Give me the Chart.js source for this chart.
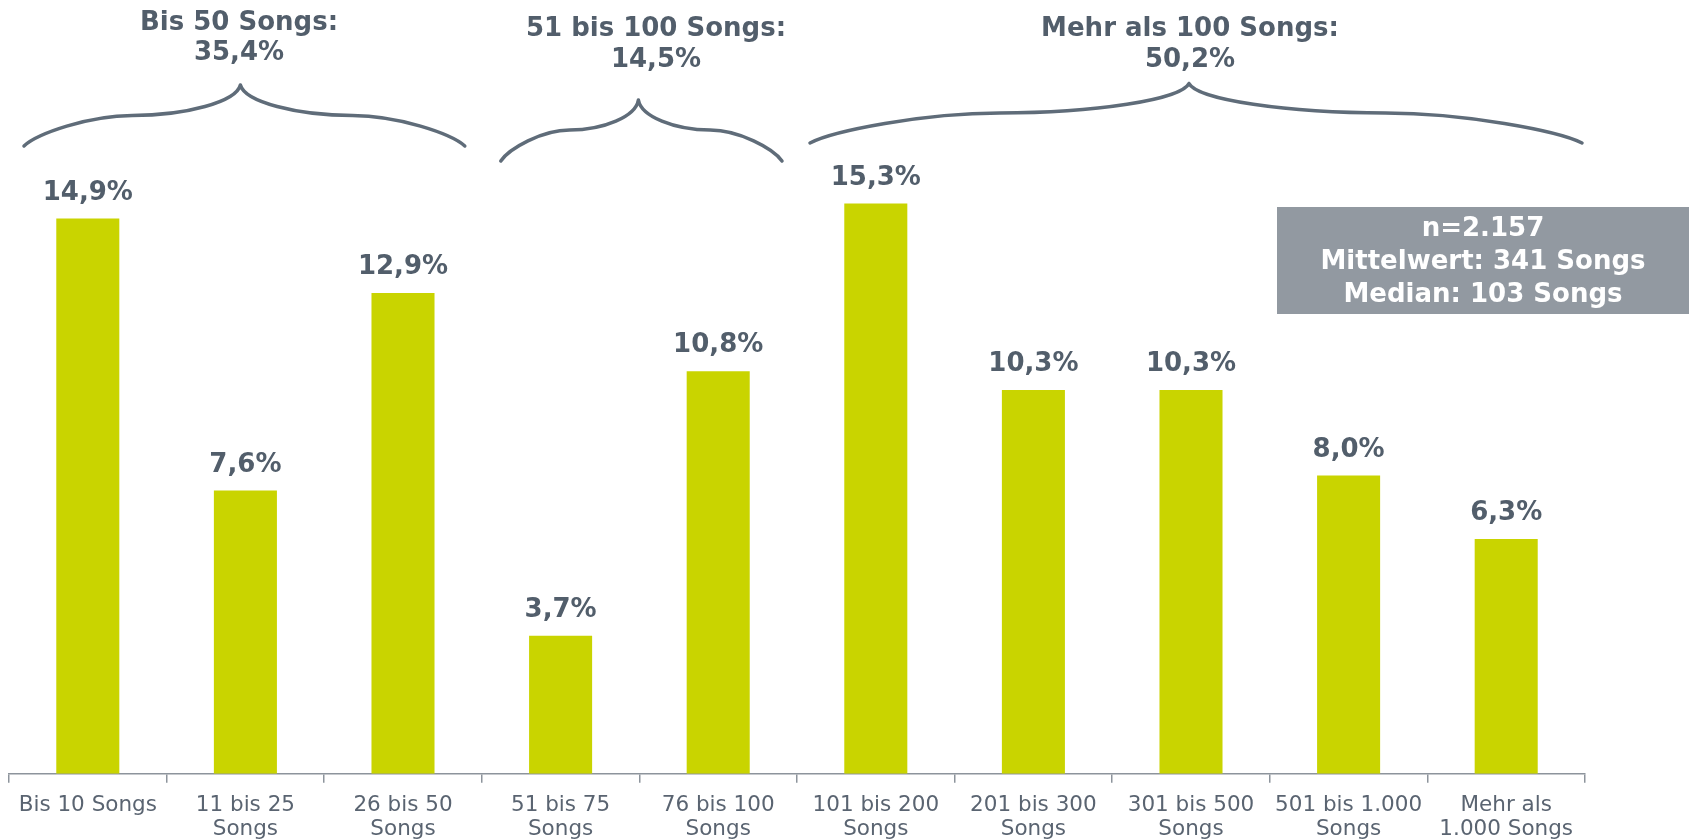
<!DOCTYPE html>
<html>
<head>
<meta charset="utf-8">
<script src="https://cdn.jsdelivr.net/npm/chart.js@4/dist/chart.umd.min.js"></script>
<style>
  html, body { margin: 0; padding: 0; background: #fff; }
  #wrap { width: 1689px; height: 839px; position: relative; }
</style>
</head>
<body>
<div id="wrap"><canvas id="c" width="1689" height="839"></canvas></div>
<script>
// data
const categories = [
  'Bis 10 Songs', ['11 bis 25', 'Songs'], ['26 bis 50', 'Songs'], ['51 bis 75', 'Songs'],
  ['76 bis 100', 'Songs'], ['101 bis 200', 'Songs'], ['201 bis 300', 'Songs'],
  ['301 bis 500', 'Songs'], ['501 bis 1.000', 'Songs'], ['Mehr als', '1.000 Songs']
];
const shares = [14.9, 7.6, 12.9, 3.7, 10.8, 15.3, 10.3, 10.3, 8.0, 6.3];
const groupTitles = ['Bis 50 Songs:', '51 bis 100 Songs:', 'Mehr als 100 Songs:'];
const groupShares = ['35,4%', '14,5%', '50,2%'];
const groupFirst = [0, 3, 5];
const groupLast = [2, 4, 9];
const infoLines = ['n=2.157', 'Mittelwert: 341 Songs', 'Median: 103 Songs'];

const DARK = '#525e6b';
const BRACE = '#5f6c79';
const FONT = '"DejaVu Sans", Verdana, sans-serif';

function pct(v) {
  return v.toFixed(1).replace('.', ',') + '%';
}

// brace layout per group (pixel geometry, not data)
const braceGeo = [
  { inL: 15, inR: 17, tipDx: -4, tip: 85, mid: 115.5, end: 146, tx: 239, t1: 23, t2: 53 },
  { inL: 19, inR: 15, tipDx: -3, tip: 100, mid: 130, end: 161, tx: 656, t1: 29, t2: 60 },
  { inL: 13, inR: 3, tipDx: -7, tip: 83.5, mid: 113, end: 143, tx: 1190, t1: 29, t2: 60 }
];

// one half of a curly brace, from the outer end (xe) to the tip (xt)
function halfBrace(ctx, xe, xt, g) {
  const h = xt - xe, d = g.mid - g.tip, e = g.end - g.mid;
  const X = f => xe + f * h;
  ctx.moveTo(xe, g.end);
  ctx.bezierCurveTo(X(0.06), g.mid + 0.6 * e, X(0.3), g.mid, X(0.5), g.mid);
  ctx.bezierCurveTo(X(0.75), g.mid, X(0.98), g.mid - 0.45 * d, xt, g.tip);
}

function drawBrace(ctx, x1, xt, x2, g) {
  ctx.beginPath();
  halfBrace(ctx, x1, xt, g);
  halfBrace(ctx, x2, xt, g);
  ctx.stroke();
}

const overlay = {
  id: 'overlay',
  afterDatasetsDraw(chart) {
    const ctx = chart.ctx;
    const xs = chart.scales.x;
    const meta = chart.getDatasetMeta(0);
    const step = xs.getPixelForValue(1) - xs.getPixelForValue(0);

    ctx.save();
    // value labels
    ctx.fillStyle = DARK;
    ctx.font = 'bold 26px ' + FONT;
    ctx.textAlign = 'center';
    ctx.textBaseline = 'alphabetic';
    meta.data.forEach((bar, i) => {
      ctx.fillText(pct(shares[i]), bar.x, bar.y - 19);
    });

    // group braces + titles
    ctx.strokeStyle = BRACE;
    ctx.lineWidth = 3.5;
    ctx.lineCap = 'round';
    groupTitles.forEach((t, i) => {
      const g = braceGeo[i];
      const left = xs.getPixelForValue(groupFirst[i]) - step / 2 + g.inL;
      const right = xs.getPixelForValue(groupLast[i]) + step / 2 - g.inR;
      drawBrace(ctx, left, (left + right) / 2 + g.tipDx, right, g);
      ctx.textBaseline = 'middle';
      ctx.fillText(t, g.tx, g.t1);
      ctx.fillText(groupShares[i], g.tx, g.t2);
    });

    // info box
    ctx.fillStyle = '#9299a1';
    ctx.fillRect(1277, 207, 412, 107);
    ctx.fillStyle = '#ffffff';
    infoLines.forEach((t, i) => {
      ctx.fillText(t, 1483, 229 + i * 33);
    });
    ctx.restore();
  }
};

new Chart(document.getElementById('c'), {
  type: 'bar',
  data: {
    labels: categories,
    datasets: [{
      data: shares,
      backgroundColor: '#c9d400',
      barPercentage: 0.4,
      categoryPercentage: 1.0
    }]
  },
  options: {
    responsive: false,
    animation: false,
    layout: { padding: { left: 9, right: 104, top: 28.5, bottom: -13 } },
    plugins: { legend: { display: false }, tooltip: { enabled: false } },
    scales: {
      y: { display: false, min: 0, max: 20 },
      x: {
        grid: { drawOnChartArea: false, drawTicks: true, tickLength: 9, color: '#8d949c', lineWidth: 1.5 },
        border: { display: true, color: '#8d949c', width: 1.5 },
        ticks: {
          color: '#5a6471',
          font: { family: FONT, size: 21.5, lineHeight: 1.1 },
          padding: 11,
          maxRotation: 0,
          autoSkip: false
        }
      }
    }
  },
  plugins: [overlay]
});
</script>
</body>
</html>
